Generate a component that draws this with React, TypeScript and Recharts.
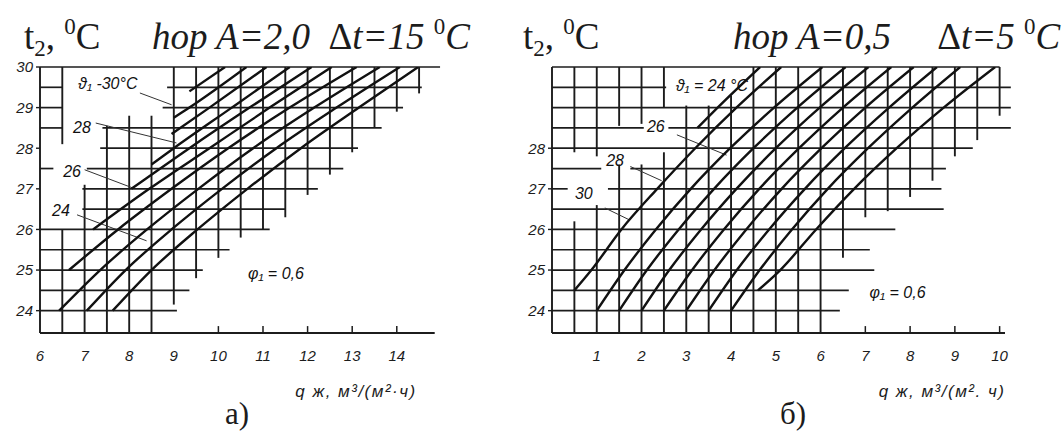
import React from 'react';
import { LineChart, Line, XAxis, YAxis, ReferenceLine, ReferenceDot } from 'recharts';

type Seg = { level: number; from: number; to: number };
type Note = { text: string; x: number; y: number };

// ---------- Panel (a): hop A = 2,0, Δt = 15 °C ----------
const A_X_TICKS = [6, 7, 8, 9, 10, 11, 12, 13, 14];
const A_Y_TICKS = [24, 25, 26, 27, 28, 29, 30];
const A_INNER_TICKS = [10, 11, 12, 13, 14];

// horizontal grid pieces: t2 level, q from, q to
const A_ROWS: Seg[] = [
  { level: 30, from: 6, to: 14.97 },
  { level: 29.5, from: 6, to: 6.5 },
  { level: 29.5, from: 8.85, to: 14.56 },
  { level: 29, from: 6, to: 6.5 },
  { level: 29, from: 8.75, to: 14.14 },
  { level: 28.5, from: 6, to: 6.5 },
  { level: 28.5, from: 7.4, to: 13.66 },
  { level: 28, from: 7.35, to: 13.13 },
  { level: 27.5, from: 6, to: 6.3 },
  { level: 27.5, from: 7.05, to: 12.8 },
  { level: 27, from: 6.95, to: 12.23 },
  { level: 26.5, from: 6.95, to: 11.5 },
  { level: 26, from: 6, to: 11.15 },
  { level: 25.5, from: 6, to: 10.25 },
  { level: 25, from: 6, to: 9.65 },
  { level: 24.5, from: 6, to: 9.35 },
  { level: 24, from: 6, to: 9.07 },
];

// vertical grid pieces: q level, t2 from, t2 to
const A_COLS: Seg[] = [
  { level: 6.5, from: 28.1, to: 30 },
  { level: 6.5, from: 23.45, to: 26 },
  { level: 7, from: 23.45, to: 27.1 },
  { level: 7.5, from: 23.45, to: 28.55 },
  { level: 8, from: 23.45, to: 28.8 },
  { level: 8.5, from: 23.45, to: 28.8 },
  { level: 9, from: 24.15, to: 30 },
  { level: 9.5, from: 24.8, to: 30 },
  { level: 10, from: 25.3, to: 30 },
  { level: 10.5, from: 25.8, to: 30 },
  { level: 11, from: 26.0, to: 30 },
  { level: 11.5, from: 26.3, to: 30 },
  { level: 12, from: 26.85, to: 30 },
  { level: 12.5, from: 27.35, to: 30 },
  { level: 13, from: 27.9, to: 30 },
  { level: 13.5, from: 28.5, to: 30 },
  { level: 14, from: 28.9, to: 30 },
  { level: 14.5, from: 29.35, to: 30 },
];

// ϑ1 curves: [q, t2] pairs
const A_CURVES: number[][][] = [
  [[9.35, 29.4], [10.15, 30]],
  [[9.0, 28.75], [9.35, 29], [10.63, 30]],
  [[8.95, 28.35], [9.8, 29], [11.08, 30]],
  [[8.5, 27.6], [9.0, 28], [10.3, 29], [11.6, 30]],
  [[8.05, 27], [9.35, 28], [10.7, 29], [12.09, 30]],
  [[7.19, 26], [8.45, 27], [9.8, 28], [11.15, 29], [12.54, 30]],
  [[6.65, 25], [7.75, 26], [8.95, 27], [10.22, 28], [11.6, 29], [13.1, 30]],
  [[6.43, 24], [7.35, 25], [8.4, 26], [9.55, 27], [10.78, 28], [12.15, 29], [13.62, 30]],
  [[7.05, 24], [7.92, 25], [8.95, 26], [10.08, 27], [11.3, 28], [12.65, 29], [14.07, 30]],
  [[7.63, 24], [8.5, 25], [9.53, 26], [10.65, 27], [11.85, 28], [13.15, 29], [14.48, 30]],
];

const A_NOTES: Note[] = [
  { text: 'ϑ₁ -30°C', x: 7.52, y: 29.6 },
  { text: '28', x: 6.94, y: 28.52 },
  { text: '26', x: 6.72, y: 27.44 },
  { text: '24', x: 6.47, y: 26.48 },
  { text: 'φ₁ = 0,6', x: 11.29, y: 24.93 },
];
const A_LEADERS: number[][] = [
  [8.24, 29.36, 8.95, 29.07],
  [7.25, 28.62, 9.06, 28.13],
  [7.0, 27.47, 8.06, 27.03],
  [6.83, 26.36, 8.39, 25.72],
];

// ---------- Panel (б): hop A = 0,5, Δt = 5 °C ----------
const B_X_TICKS = [1, 2, 3, 4, 5, 6, 7, 8, 9, 10];
const B_Y_TICKS = [24, 25, 26, 27, 28];
const B_INNER_TICKS = [7, 8, 9, 10];

const B_ROWS: Seg[] = [
  { level: 30, from: 0, to: 10.0 },
  { level: 29.5, from: 0, to: 2.55 },
  { level: 29.5, from: 4.6, to: 10.25 },
  { level: 29, from: 0, to: 10.25 },
  { level: 28.5, from: 0, to: 2.05 },
  { level: 28.5, from: 2.6, to: 10.25 },
  { level: 28, from: 0, to: 9.4 },
  { level: 27.5, from: 0, to: 1.1 },
  { level: 27.5, from: 1.75, to: 8.8 },
  { level: 27, from: 0, to: 0.35 },
  { level: 27, from: 1.25, to: 8.7 },
  { level: 26.5, from: 0, to: 8.75 },
  { level: 26, from: 0, to: 7.67 },
  { level: 25.5, from: 0, to: 7.1 },
  { level: 25, from: 0, to: 7.2 },
  { level: 24.5, from: 0, to: 6.63 },
  { level: 24, from: 0, to: 6.43 },
];

const B_COLS: Seg[] = [
  { level: 0.5, from: 27.9, to: 30 },
  { level: 0.5, from: 23.45, to: 26.2 },
  { level: 1, from: 27.8, to: 30 },
  { level: 1, from: 23.45, to: 26.6 },
  { level: 1.5, from: 28.55, to: 30 },
  { level: 1.5, from: 23.45, to: 27.6 },
  { level: 2, from: 28.6, to: 30 },
  { level: 2, from: 23.45, to: 27.6 },
  { level: 2.5, from: 29.0, to: 30 },
  { level: 2.5, from: 23.45, to: 27.9 },
  { level: 3, from: 23.45, to: 29.05 },
  { level: 3.5, from: 23.45, to: 29.05 },
  { level: 4, from: 23.45, to: 29.3 },
  { level: 4.5, from: 23.45, to: 30 },
  { level: 5, from: 23.45, to: 30 },
  { level: 5.5, from: 23.45, to: 30 },
  { level: 6, from: 23.45, to: 30 },
  { level: 6.5, from: 25.3, to: 30 },
  { level: 7, from: 26.3, to: 30 },
  { level: 7.5, from: 26.45, to: 30 },
  { level: 8, from: 26.8, to: 30 },
  { level: 8.5, from: 27.2, to: 30 },
  { level: 9, from: 27.8, to: 30 },
  { level: 9.5, from: 28.2, to: 30 },
  { level: 10, from: 28.8, to: 30 },
];

const B_CURVES: number[][][] = [
  [[3.25, 28.5], [3.7, 29], [4.65, 30]],
  [[0.5, 24.5], [0.88, 25], [1.55, 26], [2.35, 27], [3.2, 28], [4.12, 29], [5.12, 30]],
  [[1.0, 24], [1.62, 25], [2.32, 26], [3.1, 27], [3.98, 28], [4.96, 29], [6.04, 30]],
  [[1.5, 24], [2.12, 25], [2.83, 26], [3.62, 27], [4.5, 28], [5.48, 29], [6.56, 30]],
  [[2.0, 24], [2.62, 25], [3.33, 26], [4.12, 27], [5.0, 28], [5.98, 29], [7.07, 30]],
  [[2.5, 24], [3.13, 25], [3.84, 26], [4.63, 27], [5.52, 28], [6.5, 29], [7.58, 30]],
  [[3.0, 24], [3.63, 25], [4.34, 26], [5.13, 27], [6.02, 28], [7.0, 29], [8.08, 30]],
  [[3.5, 24], [4.13, 25], [4.85, 26], [5.65, 27], [6.54, 28], [7.53, 29], [8.6, 30]],
  [[4.0, 24], [4.64, 25], [5.36, 26], [6.16, 27], [7.06, 28], [8.05, 29], [9.12, 30]],
  [[4.6, 24.5], [5.1, 25], [5.9, 26], [6.75, 27], [7.7, 28], [8.75, 29], [9.9, 30]],
];

const B_NOTES: Note[] = [
  { text: 'ϑ₁ = 24 °C', x: 3.57, y: 29.56 },
  { text: '26', x: 2.32, y: 28.55 },
  { text: '28', x: 1.41, y: 27.71 },
  { text: '30', x: 0.71, y: 26.9 },
  { text: 'φ₁ = 0,6', x: 7.72, y: 24.46 },
];
const B_LEADERS: number[][] = [
  [2.79, 28.33, 3.9, 27.83],
  [1.75, 27.55, 2.45, 27.2],
  [1.18, 26.53, 1.74, 26.23],
];

const Y_MIN = 23.45;
const INK = '#1c1c1c';
const HAND = '"Liberation Sans", "DejaVu Sans", sans-serif';
const SERIF = '"Liberation Serif", "DejaVu Serif", serif';

type PanelProps = {
  left: number;
  width: number;
  margin: { top: number; left: number; right: number; bottom: number };
  xDomain: [number, number];
  xTicks: number[];
  yTicks: number[];
  innerTicks: number[];
  rows: Seg[];
  cols: Seg[];
  curves: number[][][];
  notes: Note[];
  leaders: number[][];
};

const tickStyle = { fill: INK, fontSize: 15, fontStyle: 'italic', fontFamily: HAND };

function Panel(p: PanelProps) {
  const curveData = p.curves.map((c) => c.map(([x, y]) => ({ x, y })));
  return (
    <div style={{ position: 'absolute', left: p.left, top: 0 }}>
      <LineChart width={p.width} height={432} margin={p.margin}>
        <XAxis
          type="number"
          dataKey="x"
          domain={p.xDomain}
          ticks={p.xTicks}
          allowDataOverflow
          height={30}
          tickSize={0}
          tickMargin={17}
          tickLine={false}
          axisLine={{ stroke: INK, strokeWidth: 1.8 }}
          tick={tickStyle}
          interval={0}
        />
        <YAxis
          type="number"
          dataKey="y"
          domain={[Y_MIN, 30]}
          ticks={p.yTicks}
          allowDataOverflow
          width={40}
          tickSize={4}
          tickMargin={3}
          tickLine={{ stroke: INK, strokeWidth: 1.4 }}
          axisLine={{ stroke: INK, strokeWidth: 1.9 }}
          tick={tickStyle}
          interval={0}
        />
        {p.rows.map((r, i) => (
          <ReferenceLine
            key={'r' + i}
            ifOverflow="visible"
            segment={[{ x: r.from, y: r.level }, { x: r.to, y: r.level }]}
            stroke={INK}
            strokeWidth={1.7}
          />
        ))}
        {p.cols.map((c, i) => (
          <ReferenceLine
            key={'c' + i}
            ifOverflow="visible"
            segment={[{ x: c.level, y: c.from }, { x: c.level, y: c.to }]}
            stroke={INK}
            strokeWidth={1.9}
          />
        ))}
        {p.innerTicks.map((t, i) => (
          <ReferenceLine
            key={'t' + i}
            ifOverflow="visible"
            segment={[{ x: t, y: Y_MIN }, { x: t, y: Y_MIN + 0.17 }]}
            stroke={INK}
            strokeWidth={1.5}
          />
        ))}
        {p.leaders.map((l, i) => (
          <ReferenceLine
            key={'l' + i}
            ifOverflow="visible"
            segment={[{ x: l[0], y: l[1] }, { x: l[2], y: l[3] }]}
            stroke="#333"
            strokeWidth={1}
          />
        ))}
        {curveData.map((d, i) => (
          <Line
            key={'v' + i}
            data={d}
            dataKey="y"
            type="monotone"
            stroke="#111"
            strokeWidth={2.4}
            dot={false}
            activeDot={false}
            isAnimationActive={false}
          />
        ))}
        {p.notes.map((n, i) => (
          <ReferenceDot
            key={'n' + i}
            x={n.x}
            y={n.y}
            r={0}
            fill="none"
            stroke="none"
            ifOverflow="visible"
            label={{
              value: n.text,
              position: 'center',
              fill: '#111',
              fontSize: 16,
              fontStyle: 'italic',
              fontFamily: HAND,
            }}
          />
        ))}
      </LineChart>
    </div>
  );
}

export default function App() {
  return (
    <div style={{ position: 'absolute', left: 0, top: 0, width: 1062, height: 432, background: '#fff', overflow: 'hidden' }}>
      <Panel
        left={0}
        width={480}
        margin={{ top: 67, left: 0, right: 45.3, bottom: 69 }}
        xDomain={[6, 14.85]}
        xTicks={A_X_TICKS}
        yTicks={A_Y_TICKS}
        innerTicks={A_INNER_TICKS}
        rows={A_ROWS}
        cols={A_COLS}
        curves={A_CURVES}
        notes={A_NOTES}
        leaders={A_LEADERS}
      />
      <Panel
        left={500}
        width={562}
        margin={{ top: 67, left: 12, right: 57, bottom: 69 }}
        xDomain={[0, 10.12]}
        xTicks={B_X_TICKS}
        yTicks={B_Y_TICKS}
        innerTicks={B_INNER_TICKS}
        rows={B_ROWS}
        cols={B_COLS}
        curves={B_CURVES}
        notes={B_NOTES}
        leaders={B_LEADERS}
      />
      <svg width={1062} height={432} style={{ position: 'absolute', left: 0, top: 0, pointerEvents: 'none' }}>
        {/* panel (a) headings */}
        <text x={24} y={49} fontFamily={SERIF} fontSize={37} fill={INK} xmlSpace="preserve">
          t<tspan fontSize={23} dy={7}>2</tspan>
          <tspan dy={-7}>, </tspan>
          <tspan fontSize={23} dy={-15}>0</tspan>
          <tspan dy={15}>C</tspan>
        </text>
        <text x={152} y={49} fontFamily={SERIF} fontSize={37} fontStyle="italic" fill={INK} xmlSpace="preserve">
          hop A=2,0  <tspan fontStyle="normal">Δ</tspan>t=15 <tspan fontSize={23} dy={-15} fontStyle="normal">0</tspan>
          <tspan dy={15}>C</tspan>
        </text>
        {/* panel (б) headings */}
        <text x={523} y={49} fontFamily={SERIF} fontSize={37} fill={INK} xmlSpace="preserve">
          t<tspan fontSize={23} dy={7}>2</tspan>
          <tspan dy={-7}>, </tspan>
          <tspan fontSize={23} dy={-15}>0</tspan>
          <tspan dy={15}>C</tspan>
        </text>
        <text x={733} y={49} fontFamily={SERIF} fontSize={37} fontStyle="italic" fill={INK} xmlSpace="preserve">
          hop A=0,5     <tspan fontStyle="normal">Δ</tspan>t=5 <tspan fontSize={23} dy={-15} fontStyle="normal">0</tspan>
          <tspan dy={15}>C</tspan>
        </text>
        {/* axis units */}
        <text x={356} y={397} textAnchor="middle" fontFamily={HAND} fontSize={17} fontStyle="italic" fill={INK} letterSpacing={1.5}>
          q ж, м³/(м²·ч)
        </text>
        <text x={942} y={397} textAnchor="middle" fontFamily={HAND} fontSize={17} fontStyle="italic" fill={INK} letterSpacing={1.5}>
          q ж, м³/(м². ч)
        </text>
        {/* panel letters */}
        <text x={237} y={424} textAnchor="middle" fontFamily={SERIF} fontSize={31} fill={INK}>
          a)
        </text>
        <text x={793} y={424} textAnchor="middle" fontFamily={SERIF} fontSize={31} fill={INK}>
          б)
        </text>
      </svg>
    </div>
  );
}
